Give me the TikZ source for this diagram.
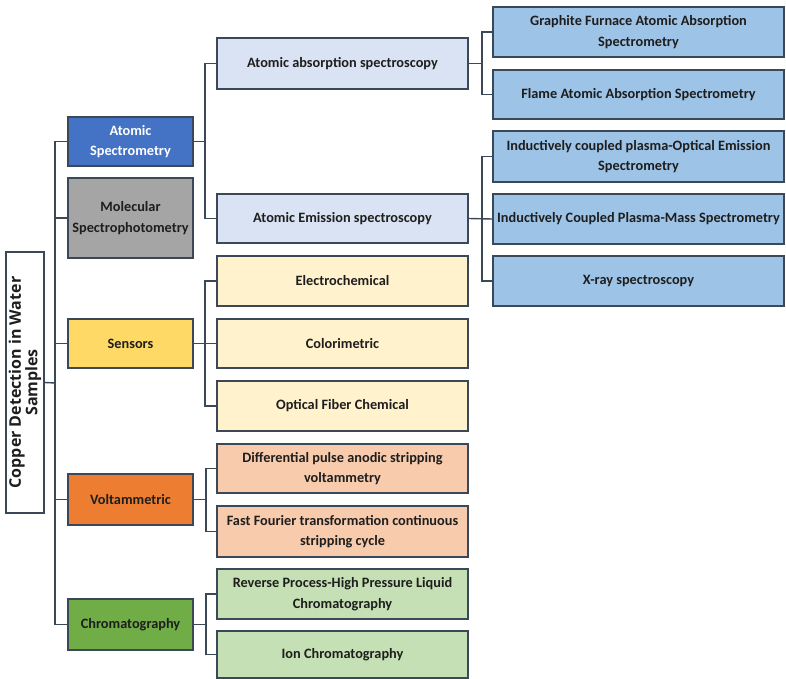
\documentclass[tikz,border=0pt]{standalone}
\usepackage{fontspec}
\setmainfont{Carlito}
\newfontfamily\rootfont{Open Sans}
\definecolor{edge}{HTML}{3B4858}
\definecolor{cA}{HTML}{4472C4}
\definecolor{cM}{HTML}{A5A5A5}
\definecolor{cS}{HTML}{FFD966}
\definecolor{cV}{HTML}{ED7D31}
\definecolor{cC}{HTML}{70AD47}
\definecolor{lA}{HTML}{DAE3F3}
\definecolor{dA}{HTML}{9DC3E6}
\definecolor{lS}{HTML}{FFF2CC}
\definecolor{lV}{HTML}{F8CBAD}
\definecolor{lC}{HTML}{C5E0B4}
\definecolor{txt}{HTML}{1E1E1E}
\begin{document}
\begin{tikzpicture}[x=1pt,y=-1pt,
  box/.style={draw=edge,line width=1.4pt,rectangle,align=center,inner sep=1pt,
    font=\bfseries\fontsize{14.3}{20.5}\selectfont,text=txt},
  lone/.style={box,minimum width=125pt},
  ltwo/.style={box,minimum width=251pt},
  lthree/.style={box,minimum width=291pt,fill=dA},
  conn/.style={draw=edge,line width=1.4pt}]
\useasboundingbox (0,0) rectangle (786,679);
% root
\node[box,rotate=90,fill=white,minimum width=261pt,minimum height=38pt,
  font=\rootfont\bfseries\fontsize{16}{16.5}\selectfont] (root) at (25,382.5)
  {Copper Detection in Water\\Samples};
% level 1
\node[lone,fill=cA,text=white,minimum height=49pt] (atom) at (130.5,141.5) {Atomic\\Spectrometry};
\node[lone,fill=cM,minimum height=80pt] (mol) at (130.5,218) {Molecular\\Spectrophotometry};
\node[lone,fill=cS,minimum height=49pt] (sens) at (130.5,343.5) {Sensors};
\node[lone,fill=cV,minimum height=51pt] (volt) at (130.5,499.5) {Voltammetric};
\node[lone,fill=cC,minimum height=51pt] (chrom) at (130.5,624.5) {Chromatography};
% level 2
\node[ltwo,fill=lA,minimum height=51pt] (aas) at (342.5,63.5) {Atomic absorption spectroscopy};
\node[ltwo,fill=lA,minimum height=49pt] (aes) at (342.5,218.5) {Atomic Emission spectroscopy};
\node[ltwo,fill=lS,minimum height=50pt] (elec) at (342.5,281) {Electrochemical};
\node[ltwo,fill=lS,minimum height=49pt] (colo) at (342.5,343.5) {Colorimetric};
\node[ltwo,fill=lS,minimum height=50pt] (opt) at (342.5,406) {Optical Fiber Chemical};
\node[ltwo,fill=lV,minimum height=49pt] (dpasv) at (342.5,468.5) {Differential pulse anodic stripping\\voltammetry};
\node[ltwo,fill=lV,minimum height=51pt] (ffts) at (342.5,531.5) {Fast Fourier transformation continuous\\stripping cycle};
\node[ltwo,fill=lC,minimum height=50pt] (rphplc) at (342.5,594) {Reverse Process-High Pressure Liquid\\Chromatography};
\node[ltwo,fill=lC,minimum height=47pt] (ion) at (342.5,654.5) {Ion Chromatography};
% level 3
\node[lthree,minimum height=50pt] (gfaas) at (638.5,32) {Graphite Furnace Atomic Absorption\\Spectrometry};
\node[lthree,minimum height=49pt] (faas) at (638.5,94.5) {Flame Atomic Absorption Spectrometry};
\node[lthree,minimum height=51pt] (icpoes) at (638.5,156.5) {Inductively coupled plasma-Optical Emission\\Spectrometry};
\node[lthree,minimum height=50pt] (icpms) at (638.5,219) {Inductively Coupled Plasma-Mass Spectrometry};
\node[lthree,minimum height=50pt] (xray) at (638.5,281) {X-ray spectroscopy};
% connectors
\coordinate (jr) at (55,383);
\draw[conn] (root.south) -- (jr);
\draw[conn] (atom.west) -| (jr) |- (chrom.west);
\draw[conn] (mol.west) -- (mol.west -| jr);
\draw[conn] (sens.west) -- (sens.west -| jr);
\draw[conn] (volt.west) -- (volt.west -| jr);
\coordinate (ja) at (205,141.5);
\draw[conn] (atom.east) -- (ja);
\draw[conn] (aas.west) -| (ja) |- (aes.west);
\coordinate (js) at (205,343.5);
\draw[conn] (sens.east) -- (colo.west);
\draw[conn] (elec.west) -| (js) |- (opt.west);
\coordinate (jv) at (206,499.5);
\draw[conn] (volt.east) -- (jv);
\draw[conn] (dpasv.west) -| (jv) |- (ffts.west);
\coordinate (jc) at (206,624.5);
\draw[conn] (chrom.east) -- (jc);
\draw[conn] (rphplc.west) -| (jc) |- (ion.west);
\coordinate (jaa) at (482,63.5);
\draw[conn] (aas.east) -- (jaa);
\draw[conn] (gfaas.west) -| (jaa) |- (faas.west);
\coordinate (jae) at (482,219);
\draw[conn] (aes.east) -- (icpms.west);
\draw[conn] (icpoes.west) -| (jae) |- (xray.west);
\end{tikzpicture}
\end{document}
